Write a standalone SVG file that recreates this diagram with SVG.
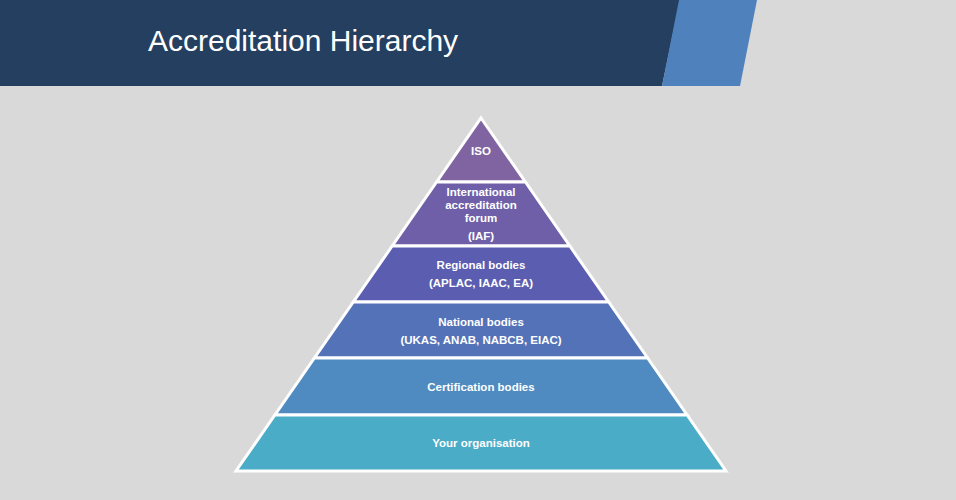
<svg xmlns="http://www.w3.org/2000/svg" width="956" height="500" viewBox="0 0 956 500">
<style>
.l{stroke:#fff;stroke-width:3;stroke-linejoin:miter}
.t{font-family:"Liberation Sans",Arial,sans-serif;font-weight:bold;font-size:11.5px;fill:#fff;text-anchor:middle}
</style>
<rect width="956" height="500" fill="#d9d9d9"/>
<g id="header">
<polygon points="0,0 680,0 662,86 0,86" fill="#243f60"/>
<polygon points="679,0 757,0 740,86 662,86" fill="#4f81bd"/>
<text x="148" y="51" font-family="'Liberation Sans',Arial,sans-serif" font-size="30" fill="#fff">Accreditation Hierarchy</text>
</g>
<g id="iso"><polygon class="l" fill="#8064a2" points="481,118 525.4,182 436.6,182"/><text class="t" x="481" y="155">ISO</text></g>
<g id="iaf"><polygon class="l" fill="#6e5fa8" points="436.6,182 525.4,182 569.8,246 392.2,246"/>
<text class="t" x="481" y="196">International</text><text class="t" x="481" y="209">accreditation</text><text class="t" x="481" y="222">forum</text><text class="t" x="481" y="240">(IAF)</text></g>
<g id="regional"><polygon class="l" fill="#5a5db0" points="392.2,246 569.8,246 608.7,302 353.3,302"/>
<text class="t" x="481" y="269">Regional bodies</text><text class="t" x="481" y="287">(APLAC, IAAC, EA)</text></g>
<g id="national"><polygon class="l" fill="#5472b8" points="353.3,302 608.7,302 647.6,358 314.4,358"/>
<text class="t" x="481" y="326">National bodies</text><text class="t" x="481" y="344">(UKAS, ANAB, NABCB, EIAC)</text></g>
<g id="certification"><polygon class="l" fill="#4f8bc0" points="314.4,358 647.6,358 687.1,415 274.9,415"/>
<text class="t" x="481" y="391">Certification bodies</text></g>
<g id="organisation"><polygon class="l" fill="#4aacc6" points="274.9,415 687.1,415 726,471 236,471"/>
<text class="t" x="481" y="447">Your organisation</text></g>
<g id="connectors"/>
</svg>
